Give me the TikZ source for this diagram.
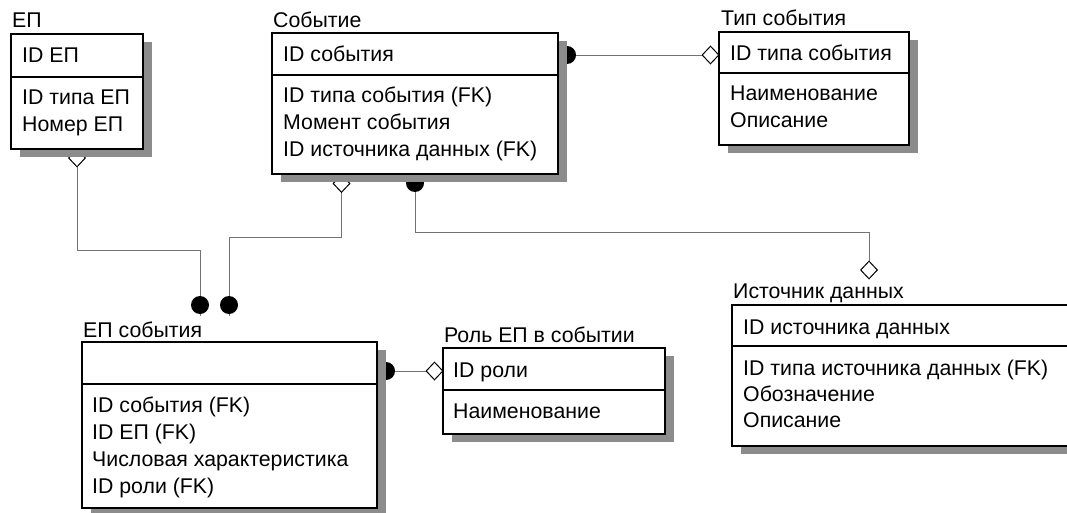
\documentclass[tikz,border=0pt]{standalone}
\usepackage{fontspec}
\setmainfont{Liberation Sans}
\usetikzlibrary{shapes.geometric}
\pgfdeclarelayer{bg}
\pgfdeclarelayer{conn}
\pgfdeclarelayer{shade}
\pgfsetlayers{bg,conn,shade,main}
\begin{document}
\begin{tikzpicture}[x=1pt,y=-1pt,
  ent/.style={draw, fill=white, line width=1.2pt, anchor=north west, inner sep=0pt, outer sep=0pt},
  txt/.style={anchor=base west, inner sep=0pt, font=\fontsize{21.3}{25}\selectfont},
  dot/.style={circle, fill=black, minimum size=18pt, inner sep=0pt},
  dia/.style={diamond, draw, fill=white, line width=1pt, minimum width=17pt, minimum height=18pt, inner sep=0pt},
  conn/.style={draw=black!55, line width=0.9pt},
  shd/.style={fill=black!45},
  sep/.style={line width=1.2pt}]
\clip (0,0) rectangle (1067,513);
\begin{pgfonlayer}{bg}
\fill[white] (0,0) rectangle (1067,513);
\end{pgfonlayer}

% entity boxes
\node[ent, minimum width=132pt, minimum height=115pt] (ep)  at (11,34) {};
\node[ent, minimum width=286pt, minimum height=141pt] (sob) at (272,33) {};
\node[ent, minimum width=190pt, minimum height=113pt] (tip) at (719,32) {};
\node[ent, minimum width=345pt, minimum height=141pt] (ist) at (732,305) {};
\node[ent, minimum width=295pt, minimum height=166pt] (eps) at (82,342) {};
\node[ent, minimum width=222pt, minimum height=86pt]  (rol) at (443,348) {};

% dividers
\draw[sep] ([yshift=-43pt]ep.north west)  -- ([yshift=-43pt]ep.north east);
\draw[sep] ([yshift=-42pt]sob.north west) -- ([yshift=-42pt]sob.north east);
\draw[sep] ([yshift=-41pt]tip.north west) -- ([yshift=-41pt]tip.north east);
\draw[sep] ([yshift=-41pt]ist.north west) -- ([yshift=-41pt]ist.north east);
\draw[sep] ([yshift=-42pt]eps.north west) -- ([yshift=-42pt]eps.north east);
\draw[sep] ([yshift=-42pt]rol.north west) -- ([yshift=-42pt]rol.north east);

% shadows
\begin{pgfonlayer}{shade}
\foreach \b in {ep,sob,tip,ist,eps,rol}
  \fill[shd] ([shift={(9,8)}]\b.south west) rectangle ([shift={(9,8)}]\b.north east);
\end{pgfonlayer}

% titles
\node[txt] (ep_t)  at (12,28)  {ЕП};
\node[txt] (sob_t) at (273,28) {Событие};
\node[txt] (tip_t) at (721,26) {Тип события};
\node[txt] (ist_t) at (733,298) {Источник данных};
\node[txt] (eps_t) at (83,337) {ЕП события};
\node[txt] (rol_t) at (444,342) {Роль ЕП в событии};

% attributes
\node[txt] (ep_1) at (22,63)  {ID ЕП};
\node[txt] (ep_2) at (22,105) {ID типа ЕП};
\node[txt] (ep_3) at (22,132) {Номер ЕП};

\node[txt] (sob_1) at (283,62)  {ID события};
\node[txt] (sob_2) at (283,103) {ID типа события (FK)};
\node[txt] (sob_3) at (283,130) {Момент события};
\node[txt] (sob_4) at (283,157) {ID источника данных (FK)};

\node[txt] (tip_1) at (730,61)  {ID типа события};
\node[txt] (tip_2) at (730,101) {Наименование};
\node[txt] (tip_3) at (730,128) {Описание};

\node[txt] (ist_1) at (743,334) {ID источника данных};
\node[txt] (ist_2) at (743,375) {ID типа источника данных (FK)};
\node[txt] (ist_3) at (743,401) {Обозначение};
\node[txt] (ist_4) at (743,427) {Описание};

\node[txt] (eps_1) at (92,412) {ID события (FK)};
\node[txt] (eps_2) at (92,439) {ID ЕП (FK)};
\node[txt] (eps_3) at (92,466) {Числовая характеристика};
\node[txt] (eps_4) at (92,493) {ID роли (FK)};

\node[txt] (rol_1) at (453,377) {ID роли};
\node[txt] (rol_2) at (453,418) {Наименование};

% connectors
\begin{pgfonlayer}{conn}
\node[dia] (dEP)   at (77,158) {};
\node[dia] (dSobB) at (341.5,183.5) {};
\node[dot] (cSobR) at (567,55) {};
\node[dia] (dTip)  at (710.5,55) {};
\node[dot] (cSobB) at (415,183) {};
\node[dia] (dIst)  at (869,270) {};
\node[dot] (cE1)   at (200,305) {};
\node[dot] (cE2)   at (229,305) {};
\node[dot] (cEpsR) at (386,371) {};
\node[dia] (dRol)  at (434.5,371) {};
\coordinate (h1) at (0,250);
\coordinate (h2) at (0,237);
\coordinate (h3) at (0,232);
\draw[conn] (dEP.south) -- (dEP |- h1) -- (cE1 |- h1) -- (cE1.north);
\draw[conn] (cE1.south) -- ++(0,2);
\draw[conn] (dSobB.south) -- (dSobB |- h2) -- (cE2 |- h2) -- (cE2.north);
\draw[conn] (cE2.south) -- ++(0,2);
\draw[conn] (cSobR) -- (dTip);
\draw[conn] (cSobB) -- (cSobB |- h3) -- (dIst |- h3) -- (dIst.north);
\draw[conn] (cEpsR) -- (dRol);
\end{pgfonlayer}
\end{tikzpicture}
\end{document}
